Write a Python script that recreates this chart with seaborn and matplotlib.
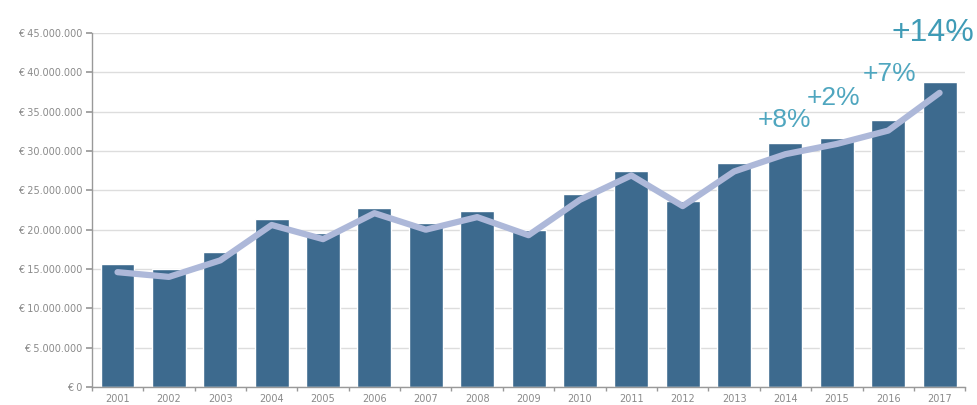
import matplotlib
matplotlib.use("Agg")
import matplotlib.pyplot as plt
import seaborn as sns
import numpy as np
import pandas as pd
from matplotlib.ticker import FuncFormatter, FixedLocator

years = ["2001", "2002", "2003", "2004", "2005", "2006", "2007", "2008", "2009",
         "2010", "2011", "2012", "2013", "2014", "2015", "2016", "2017"]
bar_values = [15.6, 15.0, 17.2, 21.3, 19.6, 22.7, 20.8, 22.4, 19.9,
              24.5, 27.4, 23.6, 28.5, 31.0, 31.6, 33.9, 38.8]  # millions €
line_values = [14.6, 14.0, 16.1, 20.6, 18.8, 22.1, 20.0, 21.6, 19.3,
               23.8, 26.9, 23.0, 27.4, 29.6, 30.9, 32.6, 37.4]  # millions €
growth_labels = ["+8%", "+2%", "+7%", "+14%"]
yticks = [0, 5, 10, 15, 20, 25, 30, 35, 40, 45]

df = pd.DataFrame({"year": years, "value": np.array(bar_values) * 1e6,
                   "trend": np.array(line_values) * 1e6})

sns.set_theme(style="white")
fig = plt.figure(figsize=(9.77, 4.05), dpi=100)
ax = fig.add_axes([0.094, 0.0444, 0.894, 0.874])

sns.barplot(data=df, x="year", y="value", color="#3d6a8e", saturation=1,
            width=0.66, ax=ax, zorder=2)
sns.lineplot(x=np.arange(len(years)), y=df["trend"], ax=ax, color="#adb8d9",
             linewidth=4.5, zorder=3, solid_capstyle="round", solid_joinstyle="round")

ax.set_xlim(-0.5, len(years) - 0.5)
ax.set_ylim(0, 45e6)
ax.set_yticks([v * 1e6 for v in yticks])

def fmt(v, pos):
    if v == 0:
        return "€ 0"
    return "€ " + f"{int(round(v)):,}".replace(",", ".")

ax.yaxis.set_major_formatter(FuncFormatter(fmt))
ax.grid(axis="y", color="#dddddd", linewidth=1, zorder=0)
ax.set_axisbelow(True)
ax.set_xlabel("")
ax.set_ylabel("")

for s in ["top", "right"]:
    ax.spines[s].set_visible(False)
for s in ["left", "bottom"]:
    ax.spines[s].set_color("#999999")
    ax.spines[s].set_linewidth(1)

ax.tick_params(axis="y", which="major", length=4, color="#999999", labelsize=7,
               labelcolor="#8a8a8a", pad=3, left=True)
ax.tick_params(axis="x", which="major", length=0, labelsize=7, labelcolor="#8a8a8a", pad=5)
ax.xaxis.set_minor_locator(FixedLocator(np.arange(-0.5, len(years), 1.0)))
ax.tick_params(axis="x", which="minor", length=3, color="#999999", bottom=True)

# growth annotations (x in category units, y in euros)
ann = [
    (12.47, 33.9e6, 19, "#4fa6bf", "left"),
    (13.42, 36.8e6, 19, "#4fa6bf", "left"),
    (14.5, 39.8e6, 19, "#4fa6bf", "left"),
    (16.68, 45.0e6, 23, "#3f9bb6", "right"),
]
for (x, y, fs, c, ha), lab in zip(ann, growth_labels):
    ax.text(x, y, lab, fontsize=fs, color=c, ha=ha, va="center",
            family="Liberation Sans", clip_on=False, zorder=5)

fig.savefig("out.png", dpi=100)
